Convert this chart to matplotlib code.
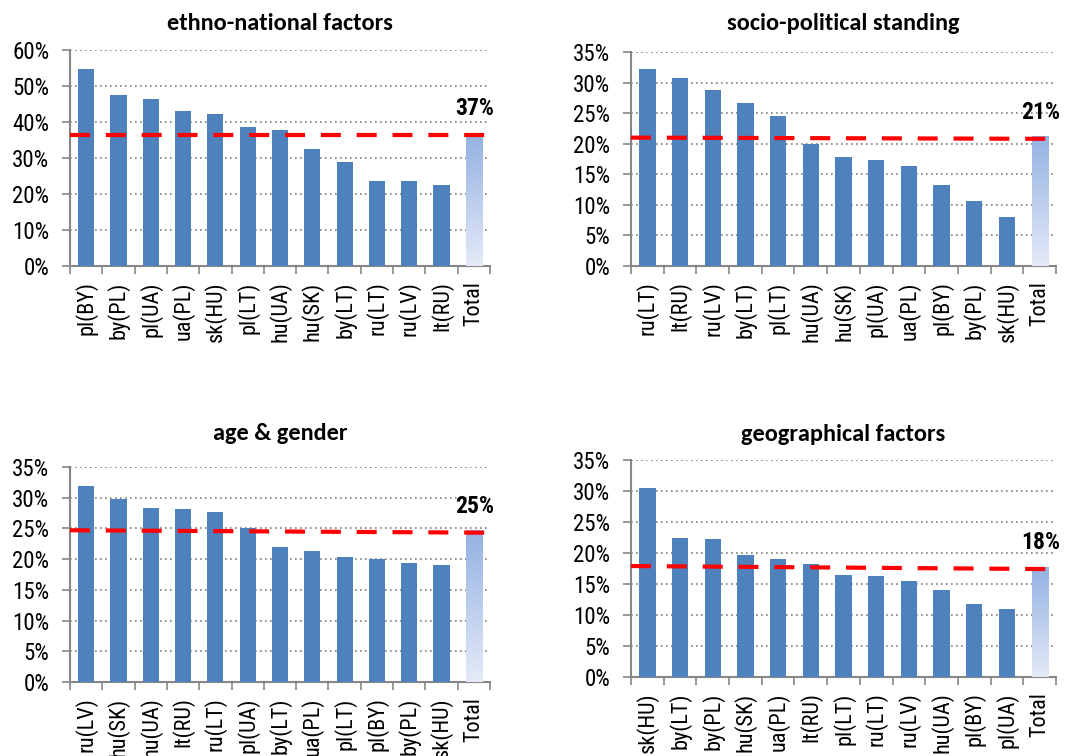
import numpy as np
import matplotlib
matplotlib.use('Agg')
import matplotlib.pyplot as plt
from matplotlib.colors import LinearSegmentedColormap
from matplotlib.ticker import PercentFormatter
import matplotlib.transforms as mtransforms

# data (percent)
ethno_labels = ['pl(BY)', 'by(PL)', 'pl(UA)', 'ua(PL)', 'sk(HU)', 'pl(LT)',
                'hu(UA)', 'hu(SK)', 'by(LT)', 'ru(LT)', 'ru(LV)', 'lt(RU)', 'Total']
ethno_values = [54.7, 47.5, 46.3, 43.0, 42.3, 38.5, 37.7, 32.6, 28.8, 23.6, 23.5, 22.6, 36.6]
ethno_avg = [36.4, 36.4]

socio_labels = ['ru(LT)', 'lt(RU)', 'ru(LV)', 'by(LT)', 'pl(LT)', 'hu(UA)',
                'hu(SK)', 'pl(UA)', 'ua(PL)', 'pl(BY)', 'by(PL)', 'sk(HU)', 'Total']
socio_values = [32.2, 30.8, 28.8, 26.6, 24.5, 19.9, 17.9, 17.4, 16.4, 13.2, 10.7, 8.0, 21.3]
socio_avg = [21.0, 20.8]

age_labels = ['ru(LV)', 'hu(SK)', 'hu(UA)', 'lt(RU)', 'ru(LT)', 'pl(UA)',
              'by(LT)', 'ua(PL)', 'pl(LT)', 'pl(BY)', 'by(PL)', 'sk(HU)', 'Total']
age_values = [31.9, 29.8, 28.4, 28.2, 27.7, 25.1, 21.9, 21.3, 20.3, 20.1, 19.4, 19.0, 24.7]
age_avg = [24.7, 24.3]

geo_labels = ['sk(HU)', 'by(LT)', 'by(PL)', 'hu(SK)', 'ua(PL)', 'lt(RU)',
              'pl(LT)', 'ru(LT)', 'ru(LV)', 'hu(UA)', 'pl(BY)', 'pl(UA)', 'Total']
geo_values = [30.5, 22.5, 22.3, 19.6, 19.1, 18.2, 16.5, 16.3, 15.5, 14.0, 11.8, 10.9, 17.7]
geo_avg = [17.9, 17.4]

TICK_FONT = ['Roboto Condensed', 'Liberation Sans', 'DejaVu Sans']
TITLE_FONT = ['Carlito', 'Lato', 'DejaVu Sans']
BAR = '#4f81bd'
grad_cmap = LinearSegmentedColormap.from_list('tot', ['#e4eaf7', '#93b1e2'])


def draw_panel(ax, title, labels, values, avg, ymax, step, label_text, tpad):
    n = len(labels)
    x = np.arange(n)
    ax.bar(x[:-1], values[:-1], width=0.5, color=BAR, zorder=3)
    # total bar with vertical gradient
    tot = ax.bar(x[-1], values[-1], width=0.5, color='none', zorder=3)[0]
    grad = np.linspace(0, 1, 256).reshape(-1, 1)
    im = ax.imshow(grad, cmap=grad_cmap, origin='lower', aspect='auto',
                   extent=[x[-1] - 0.25, x[-1] + 0.25, 0, values[-1]], zorder=3)
    im.set_clip_path(tot)

    # average line
    ax.plot([-0.5, n - 0.5], avg, color='#ff0000', lw=3, dashes=(4.8, 3.8),
            solid_capstyle='butt', dash_capstyle='butt', zorder=4)
    trans = mtransforms.blended_transform_factory(ax.transAxes, ax.transData)
    ax.annotate(label_text, xy=(1.0, avg[-1]), xycoords=trans,
                xytext=(3, 19), textcoords='offset points', ha='right',
                va='center', fontsize=17, fontweight='bold', family=TICK_FONT)

    ax.set_xlim(-0.5, n - 0.5)
    ax.set_ylim(0, ymax)
    ax.set_yticks(np.arange(0, ymax + 0.1, step))
    ax.yaxis.set_major_formatter(PercentFormatter(decimals=0))
    ax.grid(axis='y', color='#808080', linestyle=(0, (1, 2)), lw=1.2, zorder=0)
    ax.set_xticks(x)
    ax.set_xticklabels(labels, rotation=90, family=TICK_FONT, fontsize=16)
    ax.set_xticks(np.arange(-0.5, n), minor=True)
    ax.tick_params(axis='x', which='major', length=0, pad=11)
    ax.tick_params(axis='x', which='minor', length=6, color='#868686', width=1.2)
    ax.tick_params(axis='y', length=6, color='#868686', width=1.2, pad=9)
    for t in ax.get_yticklabels():
        t.set_family(TICK_FONT)
        t.set_fontsize(16.5)
    for s in ['top', 'right']:
        ax.spines[s].set_visible(False)
    for s in ['left', 'bottom']:
        ax.spines[s].set_color('#868686')
        ax.spines[s].set_linewidth(1.5)
    ax.set_title(title, fontsize=17.5, fontweight='bold', family=TITLE_FONT, pad=tpad)


fig = plt.figure(figsize=(10.82, 7.56), dpi=100)
ax1 = fig.add_axes([0.0647, 0.6481, 0.3882, 0.2857])
ax2 = fig.add_axes([0.5832, 0.6481, 0.3928, 0.2831])
ax3 = fig.add_axes([0.0647, 0.0979, 0.3882, 0.2844])
ax4 = fig.add_axes([0.5832, 0.1045, 0.3928, 0.2870])

draw_panel(ax1, 'ethno-national factors', ethno_labels, ethno_values, ethno_avg, 60, 10, '37%', 14.4)
draw_panel(ax2, 'socio-political standing', socio_labels, socio_values, socio_avg, 35, 5, '21%', 16)
draw_panel(ax3, 'age & gender', age_labels, age_values, age_avg, 35, 5, '25%', 19.4)
draw_panel(ax4, 'geographical factors', geo_labels, geo_values, geo_avg, 35, 5, '18%', 13.7)

fig.savefig('out.png', dpi=100)
